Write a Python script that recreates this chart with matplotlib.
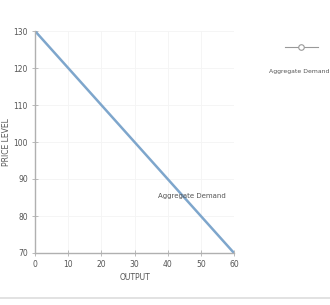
import matplotlib.pyplot as plt
from matplotlib.lines import Line2D

# AGGREGATE DEMAND DATA
output = [0, 10, 20, 30, 40, 50, 60]
price_level = [130, 120, 110, 100, 90, 80, 70]
x_ticks = [0, 10, 20, 30, 40, 50, 60]
y_ticks = [70, 80, 90, 100, 110, 120, 130]

line_color = "#7ea6cc"
axis_color = "#b0b0b0"
text_color = "#555555"

fig = plt.figure(figsize=(3.3, 3.05), dpi=100)
ax = fig.add_axes([35 / 330, 1 - 253 / 305, 199 / 330, 222 / 305])

ax.plot(output, price_level, color=line_color, linewidth=1.8, solid_capstyle="round")

ax.set_xlim(0, 60)
ax.set_ylim(70, 130)
ax.set_xticks(x_ticks)
ax.set_yticks(y_ticks)
ax.tick_params(direction="inout", length=4, width=0.6, color=axis_color,
               labelsize=5.5, labelcolor=text_color, pad=3)

# faint grid
ax.grid(True, color="#f4f4f4", linewidth=0.6)
ax.set_axisbelow(True)

for side in ["top", "right"]:
    ax.spines[side].set_visible(False)
for side in ["left", "bottom"]:
    ax.spines[side].set_color(axis_color)
    ax.spines[side].set_linewidth(1.0)

ax.set_xlabel("OUTPUT", fontsize=5.5, color=text_color, labelpad=3)
ax.set_ylabel("PRICE LEVEL", fontsize=5.5, color=text_color, labelpad=2)

ax.text(47.3, 85.3, "Aggregate Demand", fontsize=5, color=text_color,
        ha="center", va="center")

# legend on the right
fig.add_artist(Line2D([285 / 330, 318 / 330], [1 - 47 / 305, 1 - 47 / 305],
                      color="#999999", linewidth=0.8,
                      transform=fig.transFigure))
fig.add_artist(Line2D([301 / 330], [1 - 47 / 305], color="#999999", marker="o",
                      markersize=4, markerfacecolor="white", markeredgewidth=0.8,
                      transform=fig.transFigure))
fig.text(269 / 330, 1 - 71 / 305, "Aggregate Demand", fontsize=4.4, color=text_color,
         ha="left", va="center")

# bottom divider
fig.add_artist(Line2D([0, 1], [1 - 298 / 305, 1 - 298 / 305], color="#dddddd",
                      linewidth=1.2, transform=fig.transFigure))

plt.savefig("out.png", dpi=100)
